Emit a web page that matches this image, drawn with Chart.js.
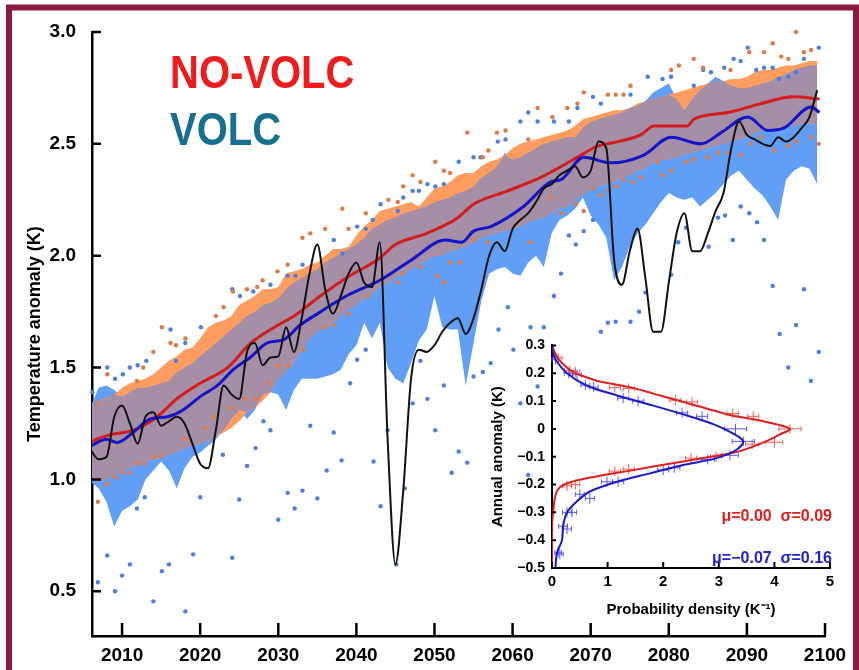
<!DOCTYPE html>
<html>
<head>
<meta charset="utf-8">
<script src="https://cdn.jsdelivr.net/npm/chart.js@4.4.1/dist/chart.umd.min.js"></script>
<style>
  html, body { margin: 0; padding: 0; background: #fff; }
  #wrap { position: relative; width: 859px; height: 670px; overflow: hidden; }
  #main { position: absolute; left: 0; top: 0; }
  #inset { position: absolute; left: 470px; top: 330px; }
</style>
</head>
<body>
<div id="wrap">
  <canvas id="main" width="859" height="670"></canvas>
  <canvas id="inset" width="380" height="290"></canvas>
</div>
<script>
// ---- main panel data (years 2006..2099) ----
const years = Array.from({ length: 94 }, (_, i) => 2006 + i);
const yearTicks = [2010, 2020, 2030, 2040, 2050, 2060, 2070, 2080, 2090, 2100];
const tempTicks = [0.5, 1.0, 1.5, 2.0, 2.5, 3.0];

// single VOLC realisation (black)
const singleRun = [1.13, 1.09, 1.10, 1.28, 1.33, 1.25, 1.16, 1.28, 1.30, 1.24,
  1.26, 1.28, 1.25, 1.16, 1.07, 1.05, 1.22, 1.42, 1.38, 1.36,
  1.57, 1.61, 1.51, 1.545, 1.55, 1.68, 1.57, 1.72, 1.92, 2.05,
  1.85, 1.74, 1.82, 1.92, 1.97, 1.88, 1.86, 2.06, 1.18, 0.62,
  0.95, 1.45, 1.58, 1.57, 1.60, 1.66, 1.70, 1.72, 1.65, 1.72,
  1.85, 2.00, 2.06, 2.02, 2.12, 2.16, 2.19, 2.24, 2.30, 2.32,
  2.36, 2.38, 2.40, 2.35, 2.38, 2.51, 2.48, 1.98, 1.87, 2.02,
  2.12, 1.90, 1.66, 1.66, 1.88, 2.10, 2.19, 2.02, 2.02, 2.10,
  2.20, 2.28, 2.48, 2.60, 2.54, 2.52, 2.50, 2.49, 2.53, 2.51,
  2.53, 2.57, 2.62, 2.74];

// NO-VOLC range (orange)
const novolcHigh = [1.32, 1.35, 1.37, 1.38, 1.41, 1.43, 1.44, 1.45, 1.47, 1.50,
  1.53, 1.55, 1.58, 1.59, 1.63, 1.68, 1.70, 1.71, 1.73, 1.78,
  1.80, 1.82, 1.85, 1.85, 1.86, 1.92, 1.93, 1.94, 1.96, 1.97,
  2.00, 2.03, 2.03, 2.04, 2.09, 2.13, 2.16, 2.20, 2.21, 2.22,
  2.23, 2.24, 2.22, 2.26, 2.30, 2.31, 2.33, 2.36, 2.37, 2.37,
  2.40, 2.42, 2.43, 2.45, 2.48, 2.50, 2.51, 2.52, 2.53, 2.54,
  2.55, 2.56, 2.58, 2.61, 2.62, 2.63, 2.64, 2.65, 2.65, 2.66,
  2.68, 2.69, 2.70, 2.71, 2.72, 2.73, 2.74, 2.75, 2.76, 2.77,
  2.78, 2.78, 2.79, 2.79, 2.80, 2.82, 2.83, 2.83, 2.84, 2.85,
  2.85, 2.86, 2.87, 2.87];
const novolcLow = [1.01, 0.99, 1.00, 1.02, 1.04, 1.05, 1.07, 1.08, 1.09, 1.10,
  1.11, 1.12, 1.14, 1.15, 1.16, 1.17, 1.19, 1.21, 1.23, 1.26,
  1.30, 1.32, 1.35, 1.39, 1.45, 1.48, 1.52, 1.58, 1.63, 1.66,
  1.68, 1.70, 1.73, 1.76, 1.78, 1.81, 1.83, 1.86, 1.88, 1.90,
  1.92, 1.94, 1.96, 1.98, 2.00, 2.00, 2.02, 2.03, 2.04, 2.06,
  2.08, 2.09, 2.10, 2.11, 2.12, 2.13, 2.15, 2.16, 2.17, 2.19,
  2.21, 2.22, 2.25, 2.27, 2.30, 2.31, 2.32, 2.33, 2.35, 2.36,
  2.38, 2.39, 2.42, 2.43, 2.43, 2.44, 2.45, 2.46, 2.47, 2.48,
  2.49, 2.50, 2.51, 2.52, 2.53, 2.55, 2.56, 2.56, 2.57, 2.58,
  2.58, 2.59, 2.59, 2.59];

// VOLC range (blue)
const volcHigh = [1.33, 1.41, 1.42, 1.40, 1.37, 1.39, 1.41, 1.41, 1.42, 1.43,
  1.44, 1.48, 1.50, 1.52, 1.55, 1.58, 1.61, 1.64, 1.67, 1.70,
  1.73, 1.75, 1.78, 1.79, 1.81, 1.85, 1.88, 1.90, 1.92, 1.94,
  1.97, 1.99, 2.01, 2.03, 2.05, 2.08, 2.12, 2.14, 2.16, 2.17,
  2.19, 2.20, 2.21, 2.22, 2.24, 2.25, 2.26, 2.28, 2.29, 2.31,
  2.35, 2.37, 2.40, 2.46, 2.43, 2.44, 2.46, 2.48, 2.50, 2.51,
  2.52, 2.53, 2.53, 2.57, 2.60, 2.61, 2.62, 2.63, 2.64, 2.66,
  2.67, 2.69, 2.73, 2.75, 2.77, 2.70, 2.65, 2.70, 2.74, 2.77,
  2.80, 2.78, 2.76, 2.75, 2.75, 2.76, 2.77, 2.78, 2.80, 2.81,
  2.83, 2.84, 2.85, 2.85];
const volcLow = [0.99, 0.96, 0.90, 0.79, 0.86, 0.88, 0.91, 1.00, 1.04, 1.08,
  1.04, 0.96, 1.05, 1.10, 1.12, 1.15, 1.18, 1.22, 1.27, 1.31,
  1.27, 1.31, 1.38, 1.39, 1.38, 1.31, 1.40, 1.45, 1.45, 1.45,
  1.46, 1.47, 1.49, 1.56, 1.60, 1.70, 1.63, 1.70, 1.50, 1.45,
  1.43, 1.52, 1.62, 1.67, 1.82, 1.68, 1.67, 1.67, 1.42, 1.61,
  1.80, 1.92, 1.94, 1.95, 1.92, 1.91, 1.97, 2.00, 1.95, 2.10,
  2.16, 2.18, 2.21, 2.26, 2.18, 2.14, 2.08, 1.89, 1.95, 2.04,
  2.10, 2.14, 2.19, 2.24, 2.28, 2.26, 2.25, 2.26, 2.22, 2.25,
  2.28, 2.32, 2.36, 2.38, 2.34, 2.30, 2.27, 2.22, 2.16, 2.34,
  2.38, 2.40, 2.39, 2.32];

// ensemble means [year, K]
const novolcMean = [[2006, 1.17], [2008.5, 1.20], [2011.5, 1.22], [2014.5, 1.28], [2017, 1.36],
  [2020, 1.43], [2023.5, 1.50], [2026.5, 1.61], [2030, 1.69], [2032, 1.73], [2035, 1.81],
  [2038.7, 1.90], [2043, 1.99], [2045, 2.05], [2049, 2.10], [2053, 2.17], [2055, 2.23],
  [2059.4, 2.29], [2063.6, 2.35], [2067.8, 2.43], [2070.9, 2.49], [2073.5, 2.51], [2076.4, 2.54],
  [2078.1, 2.58], [2082.4, 2.58], [2083.2, 2.61], [2087.6, 2.64], [2091.8, 2.68], [2096, 2.71],
  [2099.3, 2.70]];
const volcMean = [[2006, 1.15], [2008, 1.18], [2009.4, 1.165], [2011.4, 1.21], [2013.6, 1.27],
  [2015.8, 1.28], [2017.8, 1.31], [2020, 1.37], [2022.2, 1.42], [2024.2, 1.49], [2026.4, 1.545],
  [2028.6, 1.61], [2030.7, 1.625], [2032.8, 1.69], [2035, 1.74], [2038.7, 1.82], [2043, 1.89],
  [2047, 1.98], [2051.4, 2.07], [2053.5, 2.06], [2055, 2.11], [2057.2, 2.13], [2061.4, 2.22],
  [2064.9, 2.33], [2066.2, 2.34], [2069.1, 2.44], [2072.6, 2.415], [2076.8, 2.45], [2080.3, 2.53],
  [2084.1, 2.50], [2086.7, 2.55], [2090.1, 2.62], [2092.7, 2.56], [2094.7, 2.57], [2098.2, 2.665],
  [2099.3, 2.64]];

// ensemble extremes (dots) [year, K]
const novolcHighDots = [[2006.8, 1.34], [2008.1, 1.47], [2011.9, 1.44], [2012.7, 1.50], [2014.0, 1.57],
  [2015.1, 1.68], [2016.2, 1.61], [2016.9, 1.60], [2018.1, 1.63], [2022.0, 1.73], [2023.0, 1.77],
  [2024.2, 1.84], [2026.0, 1.85], [2027.3, 1.86], [2028.0, 1.89], [2029.9, 1.93], [2031.2, 1.96],
  [2033.1, 2.08], [2034.1, 2.10], [2036.0, 2.12], [2038.2, 2.21], [2039.0, 2.12], [2041.2, 2.19],
  [2044.1, 2.25], [2045.3, 2.24], [2046.0, 2.31], [2047.2, 2.36], [2048.2, 2.33], [2050.1, 2.42],
  [2051.2, 2.38], [2052.0, 2.37], [2054.2, 2.55], [2056.2, 2.44], [2056.9, 2.47], [2058.0, 2.55],
  [2059.1, 2.56], [2062.0, 2.52], [2063.2, 2.66], [2065.1, 2.62], [2067.0, 2.66], [2068.3, 2.68],
  [2069.1, 2.73], [2072.2, 2.72], [2073.2, 2.72], [2074.2, 2.72], [2075.1, 2.76], [2080.3, 2.83],
  [2081.3, 2.85], [2083.2, 2.88], [2084.4, 2.84], [2087.9, 2.83], [2090.3, 2.91], [2092.2, 2.91],
  [2093.3, 2.95], [2094.4, 2.89], [2095.3, 2.88], [2096.3, 3.00], [2097.3, 2.91], [2098.2, 2.92]];
const volcHighDots = [[2006.2, 1.39], [2008.1, 1.50], [2009.1, 1.45], [2010.1, 1.47], [2011.0, 1.50],
  [2012.0, 1.51], [2013.1, 1.53], [2016.2, 1.67], [2016.9, 1.53], [2018.1, 1.61], [2020.1, 1.68],
  [2024.1, 1.85], [2025.1, 1.82], [2026.8, 1.84], [2029.0, 1.87], [2031.2, 1.91], [2032.2, 1.91],
  [2033.1, 1.96], [2037.1, 2.07], [2038.2, 2.01], [2040.1, 2.13], [2041.2, 2.12], [2042.1, 2.16],
  [2043.1, 2.23], [2045.3, 2.20], [2046.0, 2.26], [2047.2, 2.29], [2048.0, 2.29], [2049.1, 2.32],
  [2050.1, 2.31], [2051.2, 2.32], [2053.1, 2.42], [2055.0, 2.44], [2055.9, 2.44], [2058.1, 2.51],
  [2059.1, 2.52], [2061.0, 2.60], [2062.0, 2.64], [2063.2, 2.60], [2065.3, 2.60], [2067.2, 2.60],
  [2068.3, 2.66], [2070.3, 2.71], [2071.3, 2.68], [2075.1, 2.72], [2077.3, 2.80], [2079.2, 2.79],
  [2080.3, 2.80], [2083.2, 2.76], [2084.4, 2.83], [2085.4, 2.82], [2087.1, 2.84], [2088.3, 2.88],
  [2089.2, 2.87], [2090.1, 2.93], [2091.2, 2.83], [2092.2, 2.84], [2093.3, 2.84], [2094.1, 2.79],
  [2095.3, 2.80], [2096.3, 2.82], [2097.3, 2.88], [2099.2, 2.93]];
const novolcLowDots = [[2006.9, 0.90], [2008.1, 0.98], [2009.1, 1.01], [2010.1, 1.03], [2011.0, 1.03],
  [2012.0, 1.07], [2012.9, 1.07], [2014.0, 1.10], [2014.9, 1.10], [2018.1, 1.18], [2020.6, 1.23],
  [2021.7, 1.28], [2024.0, 1.32], [2025.8, 1.36], [2027.1, 1.36], [2028.7, 1.43], [2030.0, 1.51],
  [2031.3, 1.51], [2033.2, 1.58], [2036.0, 1.68], [2037.1, 1.69], [2039.0, 1.74], [2041.5, 1.82],
  [2043.1, 1.89], [2045.3, 1.88], [2046.0, 1.92], [2048.2, 1.95], [2050.4, 1.91], [2051.2, 1.88],
  [2052.0, 1.97], [2053.3, 1.97], [2055.0, 2.07], [2056.8, 2.06], [2061.0, 2.16], [2062.3, 2.06],
  [2064.9, 2.26], [2066.2, 2.19], [2068.1, 2.23], [2069.1, 2.20], [2070.3, 2.30], [2071.3, 2.27],
  [2072.3, 2.29], [2073.2, 2.31], [2074.2, 2.34], [2075.4, 2.33], [2076.4, 2.35], [2078.6, 2.42],
  [2079.2, 2.36], [2080.3, 2.38], [2082.2, 2.42], [2083.2, 2.43], [2085.0, 2.44], [2086.3, 2.46],
  [2087.6, 2.46], [2089.2, 2.45], [2090.5, 2.50], [2091.8, 2.53], [2093.5, 2.47], [2095.3, 2.49],
  [2096.3, 2.51], [2098.2, 2.53], [2099.2, 2.50]];
const volcLowDots = [[2006.9, 0.54], [2008.1, 0.66], [2009.1, 0.50], [2010.0, 0.57], [2011.0, 0.62],
  [2011.9, 0.87], [2012.9, 0.92], [2014.0, 0.455], [2015.1, 0.59], [2016.0, 0.62], [2018.1, 0.41],
  [2019.1, 0.665], [2020.0, 0.92], [2022.9, 1.11], [2024.1, 0.65], [2025.0, 0.91], [2026.0, 1.06],
  [2027.1, 1.14], [2028.1, 1.26], [2029.0, 1.22], [2030.0, 0.82], [2031.2, 0.94], [2032.1, 0.87],
  [2033.1, 0.95], [2034.1, 1.24], [2035.0, 0.915], [2036.2, 1.04], [2037.1, 1.21], [2038.1, 1.085],
  [2039.2, 1.43], [2040.1, 1.535], [2041.2, 1.58], [2042.2, 1.08], [2043.1, 0.88], [2044.0, 1.22],
  [2045.1, 0.62], [2046.2, 0.96], [2047.2, 1.34], [2048.2, 1.53], [2049.1, 1.36], [2050.1, 1.22],
  [2051.2, 1.42], [2052.2, 1.03], [2053.1, 1.125], [2054.2, 1.075], [2055.0, 1.46], [2056.2, 1.48],
  [2057.2, 1.52], [2058.2, 1.67], [2059.4, 1.77], [2060.1, 1.58], [2061.0, 1.34], [2062.0, 1.02],
  [2062.3, 1.68], [2063.2, 1.415], [2064.0, 1.68], [2065.3, 1.82], [2066.2, 1.92], [2067.2, 2.09],
  [2068.1, 2.05], [2069.1, 2.11], [2070.3, 2.16], [2071.3, 1.66], [2072.2, 1.70], [2073.2, 1.705],
  [2075.1, 1.705], [2076.2, 1.75], [2077.0, 1.835], [2080.3, 1.915], [2081.2, 2.06], [2082.2, 2.125],
  [2085.1, 2.04], [2086.3, 2.17], [2087.2, 2.18], [2088.2, 2.07], [2089.2, 2.22], [2090.3, 2.19],
  [2091.3, 2.15], [2092.2, 2.07], [2093.3, 1.865], [2094.2, 1.65], [2095.3, 1.50], [2096.3, 1.69],
  [2097.3, 1.85], [2098.2, 1.44], [2099.2, 1.57]];

// ---- inset data: [anomaly K, density 1/K] ----
const insetXTicks = [0, 1, 2, 3, 4, 5];
const insetYTicks = [0.3, 0.2, 0.1, 0, -0.1, -0.2, -0.3, -0.4, -0.5];
const novolcPdf = [[0.30, 0.0], [0.275, 0.05], [0.25, 0.12], [0.22, 0.27], [0.20, 0.42], [0.19, 0.55],
  [0.17, 0.86], [0.15, 1.40], [0.125, 1.85], [0.10, 2.30], [0.075, 2.75], [0.05, 3.20], [0.025, 3.85],
  [0.0, 4.28], [-0.02, 4.10], [-0.045, 3.85], [-0.08, 3.38], [-0.10, 2.85], [-0.13, 1.98], [-0.15, 1.41],
  [-0.18, 0.56], [-0.20, 0.22], [-0.22, 0.10], [-0.25, 0.05], [-0.30, 0.02], [-0.35, 0.0], [-0.50, 0.0]];
const volcPdf = [[0.30, 0.0], [0.275, 0.02], [0.25, 0.06], [0.20, 0.27], [0.155, 0.63], [0.12, 1.17],
  [0.087, 1.76], [0.052, 2.36], [0.017, 2.90], [-0.017, 3.26], [-0.045, 3.44], [-0.075, 3.32],
  [-0.105, 2.96], [-0.13, 2.36], [-0.16, 1.76], [-0.19, 1.17], [-0.225, 0.68], [-0.26, 0.45],
  [-0.30, 0.27], [-0.35, 0.20], [-0.40, 0.18], [-0.445, 0.09], [-0.50, 0.06]];
// histogram points with horizontal error: [density, anomaly, half width]
const novolcHist = [[0.11, 0.255, 0.07], [0.32, 0.21, 0.1], [0.42, 0.205, 0.08], [1.13, 0.148, 0.1],
  [1.38, 0.145, 0.1], [2.22, 0.103, 0.1], [2.52, 0.097, 0.1], [3.25, 0.055, 0.1], [3.62, 0.045, 0.1],
  [4.28, 0.0, 0.2], [4.0, -0.048, 0.15], [3.6, -0.055, 0.12], [2.95, -0.1, 0.1], [2.5, -0.105, 0.1],
  [1.38, -0.145, 0.1], [1.13, -0.152, 0.1], [0.42, -0.2, 0.08], [0.27, -0.205, 0.08]];
const volcHist = [[0.06, 0.25, 0.06], [0.3, 0.2, 0.08], [0.45, 0.195, 0.08], [0.6, 0.157, 0.08],
  [0.75, 0.15, 0.08], [1.28, 0.11, 0.1], [1.55, 0.1, 0.1], [2.34, 0.058, 0.1], [2.7, 0.045, 0.1],
  [3.3, 0.0, 0.2], [3.44, -0.045, 0.2], [3.2, -0.095, 0.15], [2.8, -0.11, 0.12], [2.0, -0.148, 0.1],
  [2.2, -0.14, 0.1], [0.99, -0.19, 0.1], [1.19, -0.19, 0.1], [0.5, -0.235, 0.08], [0.68, -0.25, 0.08],
  [0.27, -0.3, 0.08], [0.36, -0.3, 0.08], [0.2, -0.35, 0.08], [0.27, -0.36, 0.08], [0.11, -0.445, 0.06],
  [0.14, -0.45, 0.06]];

const FONT = "'Liberation Sans', Arial, Helvetica, sans-serif";
const pts = (xs, ys) => xs.map((x, i) => ({ x, y: ys[i] }));
const pairPts = arr => arr.map(([x, y]) => ({ x, y }));

// overlap of the two ranges, drawn in mauve
const overlapLow = years.map((_, i) => Math.max(novolcLow[i], volcLow[i]));
const overlapHigh = years.map((_, i) => Math.max(Math.min(novolcHigh[i], volcHigh[i]), overlapLow[i]));

// tick marks pointing into the plot
const inwardTicks = {
  id: 'inwardTicks',
  afterDatasetsDraw(chart, args, opts) {
    const { ctx, chartArea } = chart;
    const xs = chart.scales.x, ys = chart.scales.y;
    ctx.save();
    ctx.strokeStyle = '#000';
    ctx.lineWidth = opts.width;
    ctx.beginPath();
    xs.ticks.forEach(t => {
      const px = xs.getPixelForValue(t.value);
      ctx.moveTo(px, chartArea.bottom);
      ctx.lineTo(px, chartArea.bottom - opts.xLen);
    });
    ys.ticks.forEach(t => {
      const py = ys.getPixelForValue(t.value);
      ctx.moveTo(chartArea.left, py);
      ctx.lineTo(chartArea.left + opts.yLen, py);
    });
    ctx.stroke();
    ctx.restore();
  }
};

const frameAndLabels = {
  id: 'frameAndLabels',
  afterDraw(chart) {
    const ctx = chart.ctx;
    ctx.save();
    ctx.strokeStyle = '#8c1942';
    ctx.lineWidth = 6;
    ctx.strokeRect(9, 7.5, 847, 720);
    ctx.font = 'bold 40px ' + FONT;
    ctx.textBaseline = 'alphabetic';
    ctx.fillStyle = '#ee1c1c';
    ctx.translate(170, 88);
    ctx.scale(1, 1.15);
    ctx.fillText('NO-VOLC', 0, 0);
    ctx.setTransform(1, 0, 0, 1, 0, 0);
    ctx.fillStyle = '#17708f';
    ctx.translate(170, 145);
    ctx.scale(1, 1.15);
    ctx.fillText('VOLC', 0, 0);
    ctx.restore();
  }
};

const bandBase = { borderWidth: 0, borderColor: 'transparent', pointRadius: 0, tension: 0 };
const dotBase = { showLine: false, pointRadius: 2.2, pointBorderWidth: 0, clip: false };

new Chart(document.getElementById('main'), {
  type: 'line',
  data: {
    datasets: [
      { data: pts(years, singleRun), borderColor: '#111', borderWidth: 2, pointRadius: 0,
        cubicInterpolationMode: 'monotone', fill: false },
      { data: pairPts(volcMean), borderColor: '#1414c8', borderWidth: 3, pointRadius: 0,
        cubicInterpolationMode: 'monotone', fill: false },
      { data: pairPts(novolcMean), borderColor: '#d41c1c', borderWidth: 3, pointRadius: 0,
        cubicInterpolationMode: 'monotone', fill: false },
      { ...dotBase, data: pairPts(novolcHighDots), pointBackgroundColor: '#e07a48' },
      { ...dotBase, data: pairPts(volcHighDots), pointBackgroundColor: '#4d7fe0' },
      { ...dotBase, data: pairPts(novolcLowDots), pointBackgroundColor: '#e07a48' },
      { ...dotBase, data: pairPts(volcLowDots), pointBackgroundColor: '#4d7fe0' },
      { ...bandBase, data: pts(years, overlapHigh), fill: '+1', backgroundColor: '#a48fa6' },
      { ...bandBase, data: pts(years, overlapLow), fill: false },
      { ...bandBase, data: pts(years, novolcHigh), fill: '+1', backgroundColor: '#ff9c5f' },
      { ...bandBase, data: pts(years, novolcLow), fill: false },
      { ...bandBase, data: pts(years, volcHigh), fill: '+1', backgroundColor: '#619ef5' },
      { ...bandBase, data: pts(years, volcLow), fill: false }
    ]
  },
  options: {
    responsive: false,
    animation: false,
    layout: { padding: { top: 32, right: 34, left: 0, bottom: 0 } },
    plugins: {
      legend: { display: false },
      tooltip: { enabled: false },
      inwardTicks: { width: 2.5, xLen: 13, yLen: 9 }
    },
    scales: {
      x: {
        type: 'linear', min: 2006.15, max: 2100,
        afterBuildTicks: s => { s.ticks = yearTicks.map(v => ({ value: v })); },
        afterFit: s => { s.height = 34; },
        grid: { display: false, drawTicks: false },
        border: { display: true, color: '#000', width: 2.5 },
        ticks: { color: '#000', padding: 8, maxRotation: 0, autoSkip: false,
          font: { family: FONT, size: 19, weight: 'bold' }, callback: v => String(v) }
      },
      y: {
        type: 'linear', min: 0.3, max: 3.0,
        afterBuildTicks: s => { s.ticks = tempTicks.map(v => ({ value: v })); },
        afterFit: s => { s.width = 92; },
        grid: { display: false, drawTicks: false },
        border: { display: true, color: '#000', width: 2.5 },
        ticks: { color: '#000', padding: 16, autoSkip: false,
          font: { family: FONT, size: 19, weight: 'bold' }, callback: v => v.toFixed(1) },
        title: { display: true, text: 'Temperature anomaly (K)', color: '#000',
          font: { family: FONT, size: 18, weight: 'bold' }, padding: { top: 24, bottom: 0 } }
      }
    }
  },
  plugins: [inwardTicks, frameAndLabels]
});

// ---- inset ----
const histBars = {
  id: 'histBars',
  beforeDatasetsDraw(chart) {
    const { ctx } = chart;
    const xs = chart.scales.x, ys = chart.scales.y;
    [[novolcHist, '#f06058'], [volcHist, '#5a5aee']].forEach(([set, color]) => {
      ctx.save();
      ctx.strokeStyle = color;
      ctx.lineWidth = 1;
      ctx.beginPath();
      set.forEach(([d, a, w]) => {
        const px = xs.getPixelForValue(d), py = ys.getPixelForValue(a);
        const x0 = xs.getPixelForValue(d - w), x1 = xs.getPixelForValue(d + w);
        ctx.moveTo(x0, py); ctx.lineTo(x1, py);
        ctx.moveTo(x0, py - 2.5); ctx.lineTo(x0, py + 2.5);
        ctx.moveTo(x1, py - 2.5); ctx.lineTo(x1, py + 2.5);
        ctx.moveTo(px, py - 5); ctx.lineTo(px, py + 5);
      });
      ctx.stroke();
      ctx.restore();
    });
  },
  afterDraw(chart) {
    const ctx = chart.ctx;
    ctx.save();
    ctx.font = 'bold 16px ' + FONT;
    ctx.textAlign = 'right';
    ctx.fillStyle = '#e01e1e';
    ctx.fillText('\u03bc=0.00  \u03c3=0.09', 362, 191);
    ctx.fillStyle = '#2222cc';
    ctx.fillText('\u03bc=\u22120.07  \u03c3=0.16', 362, 233);
    ctx.restore();
  }
};

new Chart(document.getElementById('inset'), {
  type: 'line',
  data: {
    datasets: [
      { data: volcPdf.map(([a, d]) => ({ x: d, y: a })), borderColor: '#1a1acc', borderWidth: 2,
        pointRadius: 0, tension: 0.3, fill: false },
      { data: novolcPdf.map(([a, d]) => ({ x: d, y: a })), borderColor: '#e01e1e', borderWidth: 2,
        pointRadius: 0, tension: 0.3, fill: false }
    ]
  },
  options: {
    responsive: false,
    animation: false,
    layout: { padding: { top: 9, right: 20, left: 0, bottom: 0 } },
    plugins: {
      legend: { display: false },
      tooltip: { enabled: false },
      inwardTicks: { width: 2, xLen: 6, yLen: 4 }
    },
    scales: {
      x: {
        type: 'linear', min: 0, max: 5,
        afterBuildTicks: s => { s.ticks = insetXTicks.map(v => ({ value: v })); },
        afterFit: s => { s.height = 52; },
        grid: { display: false, drawTicks: false },
        border: { display: true, color: '#000', width: 2 },
        ticks: { color: '#000', padding: 5, maxRotation: 0, autoSkip: false,
          font: { family: FONT, size: 15, weight: 'bold' }, callback: v => String(v) },
        title: { display: true, text: 'Probability density (K\u207b\u00b9)', color: '#000',
          font: { family: FONT, size: 15, weight: 'bold' }, padding: { top: 0, bottom: 1 } }
      },
      y: {
        type: 'linear', min: -0.5, max: 0.3,
        afterBuildTicks: s => { s.ticks = insetYTicks.map(v => ({ value: v })); },
        afterFit: s => { s.width = 82; },
        grid: { display: false, drawTicks: false },
        border: { display: true, color: '#000', width: 2 },
        ticks: { color: '#000', padding: 7, autoSkip: false,
          font: { family: FONT, size: 14, weight: 'bold' },
          callback: v => (v === 0 ? '0' : v.toFixed(1).replace('-', '\u2212')) },
        title: { display: true, text: 'Annual anomaly (K)', color: '#000',
          font: { family: FONT, size: 15, weight: 'bold' }, padding: { top: 19, bottom: 0 } }
      }
    }
  },
  plugins: [inwardTicks, histBars]
});
</script>
</body>
</html>
